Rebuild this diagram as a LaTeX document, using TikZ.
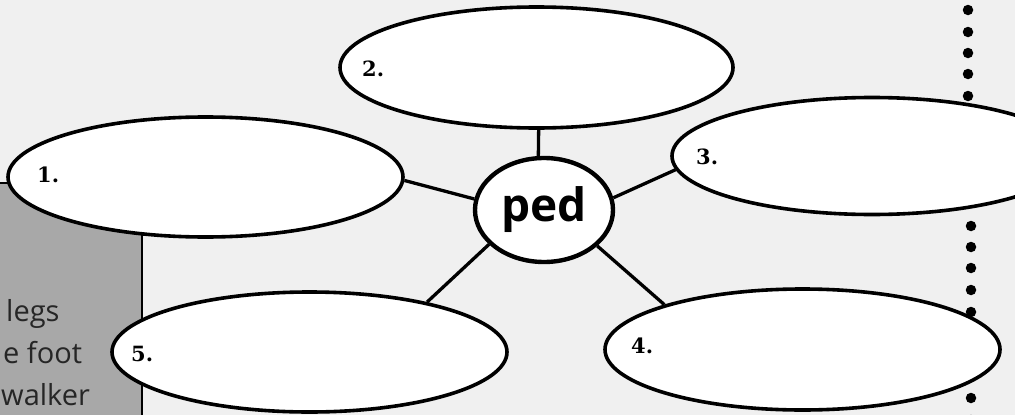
\documentclass[tikz,border=0pt]{standalone}
\usepackage{fontspec}
\newfontfamily\osans{Open Sans}
\newfontfamily\dserif{DejaVu Serif}
\usetikzlibrary{shapes.geometric}
\begin{document}
\begin{tikzpicture}[x=1pt,y=-1pt,
  blank/.style={ellipse, draw=black, line width=3.6pt, fill=white, inner sep=0pt},
  num/.style={font=\dserif\bfseries\fontsize{21}{21}\selectfont, anchor=west, inner sep=0pt},
  link/.style={line width=3.3pt, black},
  dotmark/.style={circle, fill=black, inner sep=0pt, minimum size=10.5pt},
  side/.style={font=\osans\fontsize{29}{29}\selectfont, text=black!85, inner sep=0pt, anchor=base west}]
\useasboundingbox (0,0) rectangle (1015,415);
\clip (0,0) rectangle (1015,415);
\fill[black!6] (0,0) rectangle (1015,415);
\fill[black!34] (-5,183) rectangle (142,420);
\draw[line width=2.6pt] (-5,183) -- (142,183) -- (142,420);
\foreach \y [count=\i] in {10,32,53,74,96} \node[dotmark] (da\i) at (968,\y) {};
\foreach \y [count=\i] in {226,247,268,290,312,333,355,377,398,420} \node[dotmark] (db\i) at (971,\y) {};
\node[blank, minimum width=395pt, minimum height=120pt] (e1) at (205.5,177) {};
\node[blank, minimum width=393pt, minimum height=121pt] (e2) at (536.5,67.5) {};
\node[blank, minimum width=400pt, minimum height=117pt] (e3) at (872,156) {};
\node[blank, minimum width=395pt, minimum height=121pt] (e4) at (802.5,349.5) {};
\node[blank, minimum width=395pt, minimum height=120pt] (e5) at (309.5,352) {};
\node[blank, line width=4.4pt, minimum width=138pt, minimum height=104pt, font=\osans\bfseries\fontsize{46}{46}\selectfont] (ped) at (544,210) {ped};
\node[num] (n1) at (37,175) {1.};
\node[num] (n2) at (362,69) {2.};
\node[num] (n3) at (696,157) {3.};
\node[num] (n4) at (631,346) {4.};
\node[num] (n5) at (131,354) {5.};
\draw[link] (e1.-1.5) -- (ped.171.8);
\draw[link] (e2.-88.6) -- (ped.96.6);
\draw[link] (ped.10.8) -- (e3.184);
\draw[link] (ped.-34.5) -- (e4.162.2);
\draw[link] (ped.212) -- (e5.23.9);
\node[side] (t1) at (6,321) {legs};
\node[side] (t2) at (3,363) {e foot};
\node[side] (t3) at (1,405) {walker};
\end{tikzpicture}
\end{document}
